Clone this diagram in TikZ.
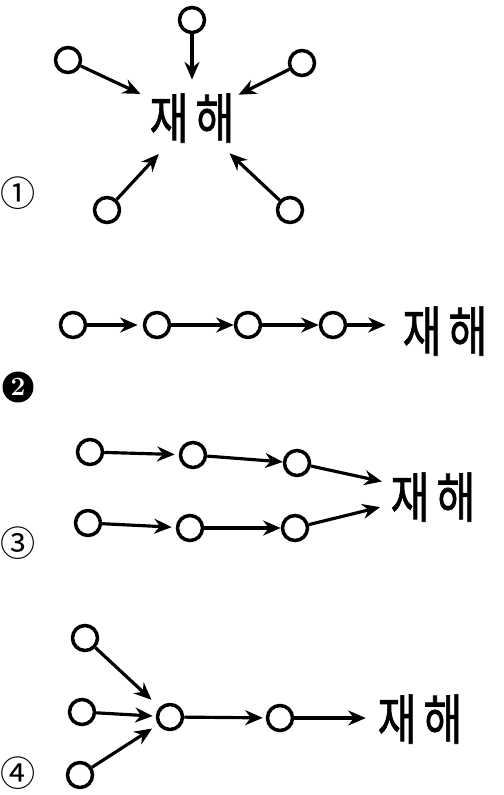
\documentclass[tikz,border=0pt]{standalone}
\usepackage{fontspec}
\newfontfamily\cjk{Noto Sans CJK KR}
\newfontfamily\cjkm[FakeBold=1.3]{Noto Sans CJK KR}
\usepackage{graphicx}
\usepackage{tikz}
\usetikzlibrary{arrows.meta}

\newcommand{\jaehae}{\scalebox{0.78}[1]{재\hspace{0.16em}해}}

\begin{document}
\begin{tikzpicture}[x=0.02cm,y=-0.02cm,line width=2pt,
  dot/.style={draw,circle,minimum size=0.5cm,inner sep=0pt},
  acc/.style={inner sep=0pt,font=\cjkm\fontsize{31}{31}\selectfont},
  num/.style={inner sep=0pt,font=\cjk\fontsize{20}{20}\selectfont},
  arr/.style={-{Stealth[length=10pt,width=8.5pt]},line width=1.8pt}]

\useasboundingbox (0,0) rectangle (504,795);

% 1
\node[dot] (a1) at (192,20) {};
\node[dot] (a2) at (68,60) {};
\node[dot] (a3) at (302,63) {};
\node[dot] (a4) at (107,210) {};
\node[dot] (a5) at (290,210) {};
\node[acc] (z1) at (192,118) {\jaehae};
\node[num] (n1) at (18,193) {①};

\draw[arr,shorten >=0.24cm] (a1) -- (z1);
\draw[arr,shorten >=0.16cm] (a2) -- (z1);
\draw[arr,shorten >=0.05cm] (a3) -- (z1);
\draw[arr,shorten >=0.26cm] (a4) -- (z1);
\draw[arr,shorten >=0.26cm] (a5) -- (z1);

% 2
\node[dot] (b1) at (73,325) {};
\node[dot] (b2) at (157,325) {};
\node[dot] (b3) at (248,325) {};
\node[dot] (b4) at (333,325) {};
\node[acc] (z2) at (445,331) {\jaehae};
\node[circle,fill=black,text=white,inner sep=0pt,minimum size=0.62cm,
  font=\bfseries\fontsize{15}{15}\selectfont] (n2) at (18,387) {2};

\draw[arr,shorten >=0.1cm] (b1) -- (b2);
\draw[arr] (b2) -- (b3);
\draw[arr] (b3) -- (b4);
\draw[arr,shorten >=0.3cm] (b4) -- (z2.west |- b4);

% 3
\node[dot] (c1) at (90,452) {};
\node[dot] (c2) at (193,455) {};
\node[dot] (c3) at (297,463) {};
\node[dot] (d1) at (88,523) {};
\node[dot] (d2) at (190,528) {};
\node[dot] (d3) at (295,528) {};
\node[acc] (z3) at (433,497) {\jaehae};
\node[num] (n3) at (18,543) {③};

\draw[arr,shorten >=0.08cm] (c1) -- (c2);
\draw[arr] (c2) -- (c3);
\draw[arr,shorten >=0.14cm] (c3) -- ([yshift=0.28cm]z3.west);
\draw[arr,shorten >=0.08cm] (d1) -- (d2);
\draw[arr] (d2) -- (d3);
\draw[arr,shorten >=0.18cm] (d3) -- ([yshift=-0.16cm]z3.west);

% 4
\node[dot] (e1) at (85,638) {};
\node[dot] (e2) at (82,712) {};
\node[dot] (e3) at (80,775) {};
\node[dot] (f1) at (170,717) {};
\node[dot] (f2) at (280,718) {};
\node[acc] (z4) at (420,719) {\jaehae};
\node[num] (n4) at (18,773) {④};

\draw[arr,shorten >=0.22cm] (e1) -- (f1);
\draw[arr,shorten >=0.06cm] (e2) -- (f1);
\draw[arr,shorten >=0.14cm] (e3) -- (f1);
\draw[arr,shorten >=0.06cm] (f1) -- (f2);
\draw[arr,shorten >=0.2cm] (f2) -- (z4.west |- f2);

\end{tikzpicture}
\end{document}
